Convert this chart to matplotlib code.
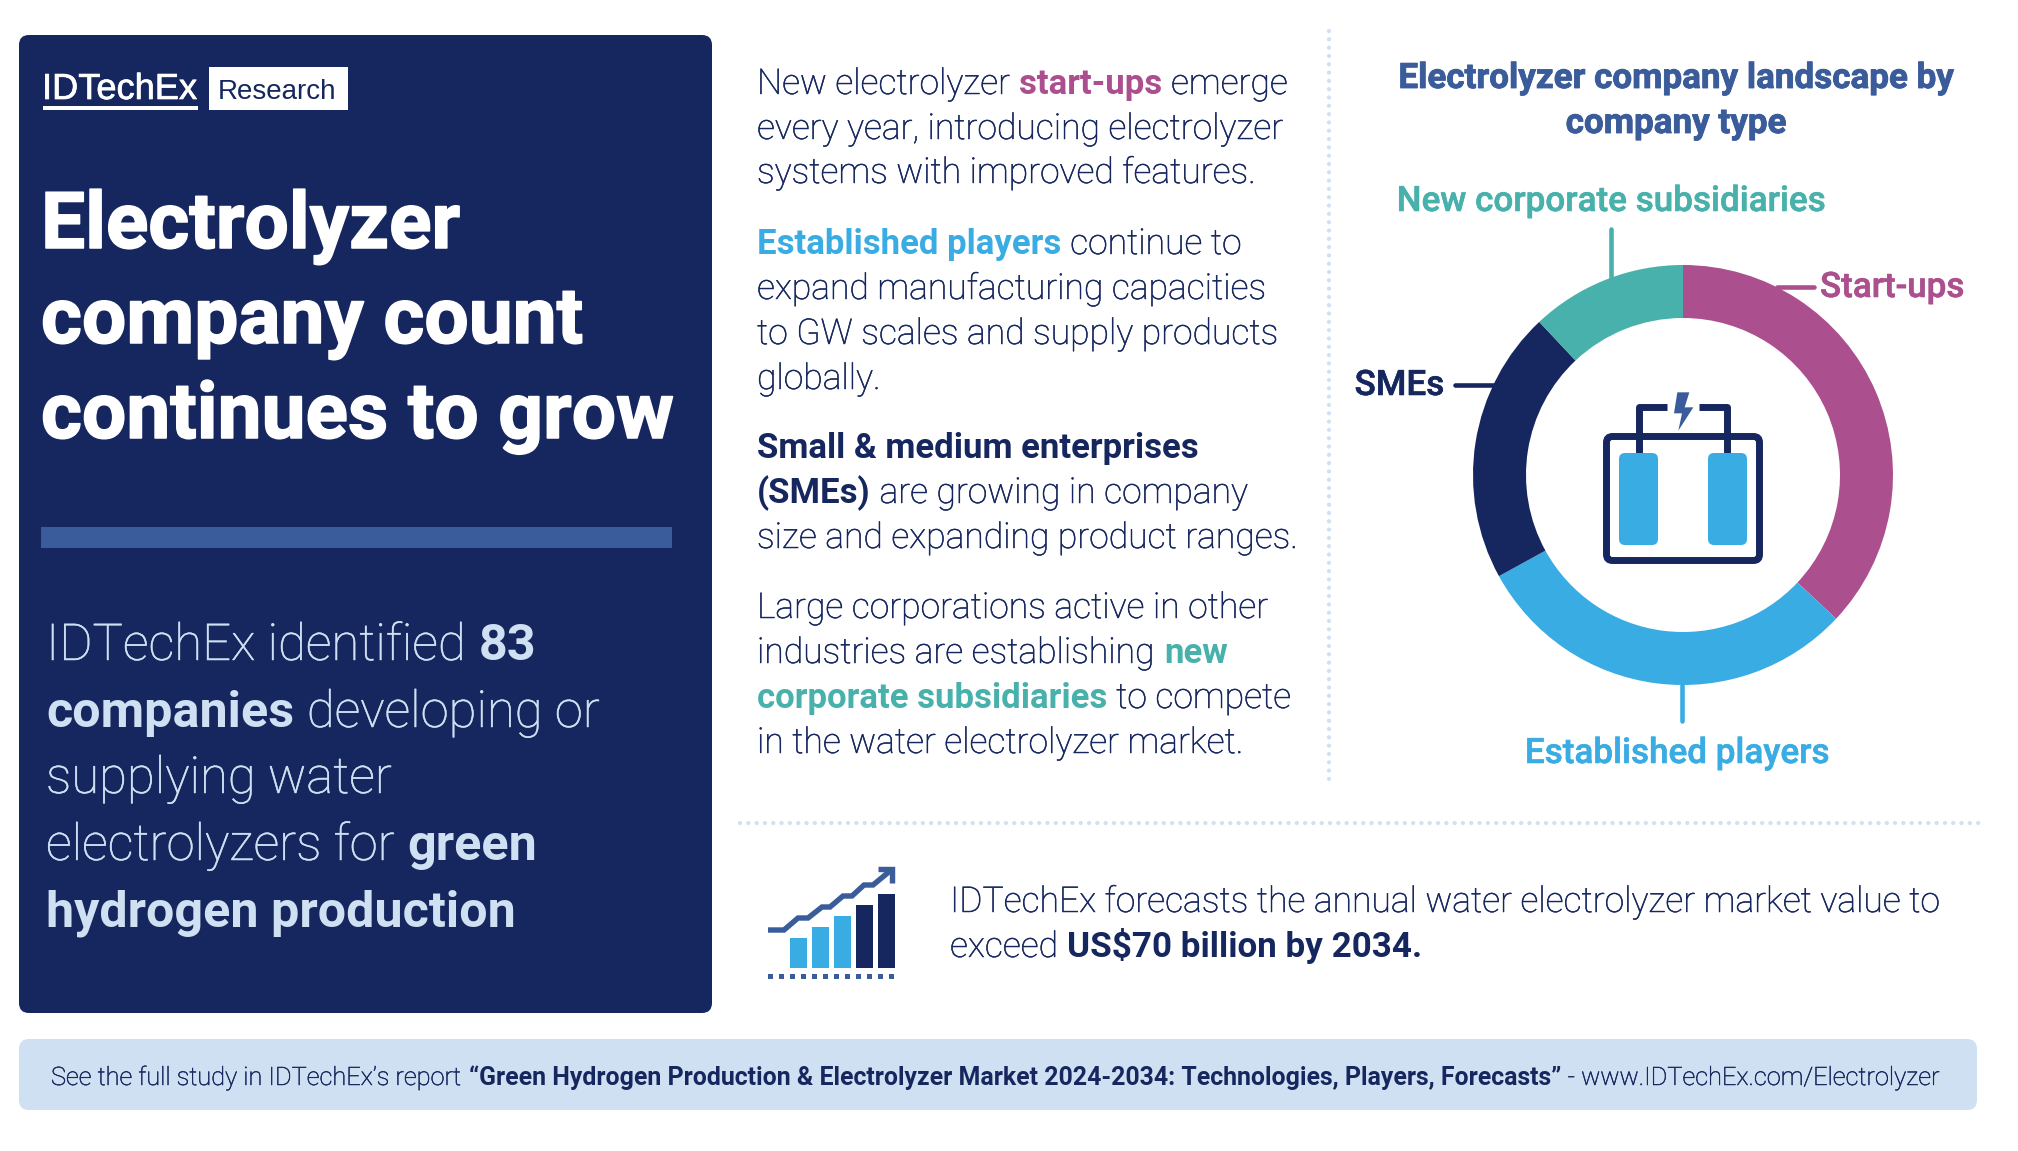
import matplotlib
matplotlib.use("Agg")
import matplotlib.pyplot as plt
import matplotlib.patheffects as pe
from matplotlib.patches import FancyBboxPatch, Rectangle, Polygon

W, H = 2018, 1151

NAVY = "#16275f"
MIDBLUE = "#3a5c9b"
SKY = "#39ade3"
TEAL = "#48b1ac"
PURPLE = "#ac4f8e"
PALE = "#cfe0f2"

# donut shares in percent
company_types = ["Start-ups", "Established players", "SMEs", "New corporate subsidiaries"]
company_shares = [37, 30, 21, 12]
company_colors = [PURPLE, SKY, NAVY, TEAL]

# little forecast icon
icon_bars = [30, 41, 52, 63, 74]

plt.rcParams["font.family"] = ["Roboto", "DejaVu Sans"]

fig = plt.figure(figsize=(W / 100, H / 100), dpi=100, facecolor="white")
ax = fig.add_axes([0, 0, 1, 1])
ax.set_xlim(0, W)
ax.set_ylim(H, 0)
ax.axis("off")
renderer = fig.canvas.get_renderer()


def thick(color, lw):
    return [pe.withStroke(linewidth=lw, foreground=color)]


def rich_line(x, y, runs, size, bold_size, space=0.25):
    """Write runs of (text, colour, weight) one after the other on a baseline."""
    for text, color, weight in runs:
        fs = bold_size if weight == "bold" else size
        t = ax.text(x, y, text, color=color, fontweight=weight, fontsize=fs,
                    va="baseline", ha="left")
        if weight != "bold":
            t.set_path_effects(thick(color, 0.35))
        x += t.get_window_extent(renderer).width + space * size / 0.72


def dotted(xs, ys):
    ax.plot(xs, ys, color="#cfe2f5", lw=3.1, dash_capstyle="round",
            linestyle=(0, (0.01, 1.92)))


def rounded(x0, y0, x1, y1, r, color, zorder=1):
    ax.add_patch(FancyBboxPatch((x0, y0), x1 - x0, y1 - y0,
                                boxstyle=f"round,pad=0,rounding_size={r}",
                                fc=color, ec="none", zorder=zorder))


# left panel
rounded(19, 35, 712, 1013, 10, NAVY)
ax.text(42, 99, "IDTechEx", color="white", fontsize=26.1, family="Liberation Sans",
        va="baseline", path_effects=thick("white", 0.5))
ax.add_patch(Rectangle((43, 106), 155, 3.5, fc="white", ec="none", zorder=2))
ax.add_patch(Rectangle((209, 67), 139, 43, fc="white", ec="none", zorder=2))
ax.text(218, 99, "Research", color=NAVY, fontsize=20, family="Liberation Sans", va="baseline", zorder=3)

title_lines = ["Electrolyzer", "company count", "continues to grow"]
for line, y in zip(title_lines, [248, 343, 438]):
    ax.text(41, y, line, color="white", fontsize=56.5, fontweight="bold", va="baseline",
            path_effects=thick("white", 1.1))
ax.add_patch(Rectangle((41, 527), 631, 21, fc=MIDBLUE, ec="none", zorder=2))

LT, BD = "light", "bold"
body_lines = [
    [("IDTechEx identified", PALE, LT), ("83", PALE, BD)],
    [("companies", PALE, BD), ("developing or", PALE, LT)],
    [("supplying water", PALE, LT)],
    [("electrolyzers for", PALE, LT), ("green", PALE, BD)],
    [("hydrogen production", PALE, BD)],
]
for runs, y in zip(body_lines, [660, 727, 793, 860, 926]):
    rich_line(46, y, runs, 36.6, 36.2)

# middle column
mid_lines = [
    (94, [("New electrolyzer", NAVY, LT), ("start-ups", PURPLE, BD), ("emerge", NAVY, LT)]),
    (139, [("every year, introducing electrolyzer", NAVY, LT)]),
    (183, [("systems with improved features.", NAVY, LT)]),
    (254, [("Established players", SKY, BD), ("continue to", NAVY, LT)]),
    (299, [("expand manufacturing capacities", NAVY, LT)]),
    (344, [("to GW scales and supply products", NAVY, LT)]),
    (389, [("globally.", NAVY, LT)]),
    (458, [("Small & medium enterprises", NAVY, BD)]),
    (503, [("(SMEs)", NAVY, BD), ("are growing in company", NAVY, LT)]),
    (548, [("size and expanding product ranges.", NAVY, LT)]),
    (618, [("Large corporations active in other", NAVY, LT)]),
    (663, [("industries are establishing", NAVY, LT), ("new", TEAL, BD)]),
    (708, [("corporate subsidiaries", TEAL, BD), ("to compete", NAVY, LT)]),
    (753, [("in the water electrolyzer market.", NAVY, LT)]),
]
for y, runs in mid_lines:
    rich_line(757, y, runs, 25.55, 25)

# dividers
dotted([1329, 1329], [31, 781])
dotted([740, 1980], [823, 823])

# right column title and donut
ax.text(1676, 88, "Electrolyzer company landscape by", color=MIDBLUE, fontsize=25.2,
        fontweight="bold", ha="center", va="baseline", path_effects=thick(MIDBLUE, 0.6))
ax.text(1676, 133, "company type", color=MIDBLUE, fontsize=25.2,
        fontweight="bold", ha="center", va="baseline", path_effects=thick(MIDBLUE, 0.6))

cx, cy, R, r_in = 1683, 475, 210, 157
dax = fig.add_axes([(cx - R) / W, 1 - (cy + R) / H, 2 * R / W, 2 * R / H])
dax.pie(company_shares, colors=company_colors, startangle=90, counterclock=False,
        wedgeprops={"width": 1 - r_in / R, "linewidth": 0})
dax.set_xlim(-1, 1)
dax.set_ylim(-1, 1)
dax.axis("off")
dax.patch.set_alpha(0)

label_pos = [(1820, 297, "left"), (1677, 763, "center"), (1444, 395, "right"), (1611, 211, "center")]
for name, c, (x, y, ha) in zip(company_types, company_colors, label_pos):
    ax.text(x, y, name, color=c, fontsize=25.2, fontweight="medium", ha=ha, va="baseline",
            path_effects=thick(c, 0.4))

# leaders
for xs, ys, c in [([1611, 1611], [229, 282], TEAL), ([1777, 1814], [287, 287], PURPLE),
                  ([1455, 1497], [385, 385], NAVY), ([1682, 1682], [685, 721], SKY)]:
    ax.plot(xs, ys, color=c, lw=3.3, solid_capstyle="round", zorder=2)

# electrolyzer icon inside the donut
ax.add_patch(FancyBboxPatch((1606.5, 436.5), 153, 124, boxstyle="round,pad=0,rounding_size=6",
                            fc="none", ec=NAVY, lw=5, zorder=3))
for x0 in (1619, 1708):
    rounded(x0, 453, x0 + 39, 545, 6, SKY, zorder=3)
ax.plot([1639, 1639, 1667], [453, 407, 407], color=NAVY, lw=5, solid_joinstyle="round",
        solid_capstyle="butt", zorder=2)
ax.plot([1727, 1727, 1699], [453, 407, 407], color=NAVY, lw=5, solid_joinstyle="round",
        solid_capstyle="butt", zorder=2)
bolt = [(292, 67), (328, 67), (314, 112), (340, 112), (295, 182), (306, 130), (282, 130)]
ax.add_patch(Polygon([(1580 + a / 3, 370 + b / 3) for a, b in bolt], fc=MIDBLUE, ec="none", zorder=3))

# forecast row
base = 968
for i, h in enumerate(icon_bars):
    ax.add_patch(Rectangle((790 + 22 * i, base - h), 16.7, h, fc=SKY if i < 3 else NAVY, ec="none", zorder=3))
for i in range(12):
    ax.add_patch(Rectangle((768 + 11 * i, 973.5), 5.4, 5.4, fc=MIDBLUE, ec="none", zorder=3))
trend_x = [768, 784, 798, 808, 822, 830, 843, 852, 864, 873, 890]
trend_y = [930, 930, 918, 918, 907, 907, 896, 896, 885, 885, 871]
ax.plot(trend_x, trend_y, color=MIDBLUE, lw=3.9, solid_joinstyle="miter", solid_capstyle="butt", zorder=3)
ax.plot([878, 892, 892], [869, 869, 883], color=MIDBLUE, lw=3.9, solid_joinstyle="miter",
        solid_capstyle="butt", zorder=3)

rich_line(950, 912, [("IDTechEx forecasts the annual water electrolyzer market value to", NAVY, LT)], 25.55, 25.2)
rich_line(950, 957, [("exceed", NAVY, LT), ("US$70 billion by 2034.", NAVY, BD)], 25.55, 25.2)

# footer band
rounded(19, 1039, 1977, 1110, 10, PALE)
rich_line(51, 1085, [("See the full study in IDTechEx\u2019s report", NAVY, LT),
                     ("\u201cGreen Hydrogen Production & Electrolyzer Market 2024-2034: Technologies, Players, Forecasts\u201d", NAVY, BD),
                     ("- www.IDTechEx.com/Electrolyzer", NAVY, LT)], 18.25, 17.9)

fig.savefig("out.png", dpi=100, facecolor="white")
